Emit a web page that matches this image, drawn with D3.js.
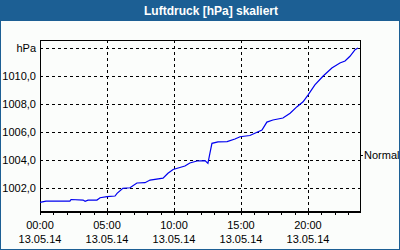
<!DOCTYPE html>
<html>
<head>
	<title>Luftdruck skaliert</title>
	<script src="https://d3js.org/d3.v7.min.js"></script>
	<style>
		body { margin: 0; background: #fff; }
		text { font-family: "Liberation Sans", Arial, sans-serif; font-size: 11px; fill: #000; }
		.grid line { stroke: #000; stroke-dasharray: 3,3; shape-rendering: crispEdges; }
		.grid .domain { display: none; }
		.axis .domain, .axis line { stroke: #000; shape-rendering: crispEdges; }
	</style>
</head>
<body>
	<div id="chart"></div>
	<script type="text/javascript">
		// sizes of the whole picture and the plot box
		var w = 400, h = 250;
		var padL = 40, padR = 360, padT = 40, padB = 211;

		// data (time of day, pressure in hPa)
		const times = ["00:00","00:27","02:14","02:19","03:13","03:22","03:35","04:15","04:29","05:00",
			"05:36","05:45","06:11","06:43","07:14","07:50","08:13","09:11","09:33","09:56",
			"10:49","11:11","11:43","12:19","12:32","12:41","12:50","13:17","13:58","14:33",
			"14:56","15:40","16:02","16:34","16:56","17:23","18:08","18:40","19:11","19:38",
			"20:00","20:31","21:07","21:47","22:23","22:46","23:08","23:31","23:44"];
		const pressure = [1000.98,1001.07,1001.07,1001.18,1001.14,1001.05,1001.14,1001.14,1001.31,1001.39,
			1001.43,1001.62,1001.98,1002.02,1002.36,1002.38,1002.57,1002.71,1003.05,1003.32,
			1003.57,1003.79,1003.93,1003.96,1003.76,1004.5,1005.19,1005.29,1005.31,1005.5,
			1005.66,1005.75,1005.91,1006.14,1006.71,1006.86,1007.0,1007.34,1007.81,1008.16,
			1008.64,1009.36,1009.98,1010.57,1010.93,1011.07,1011.41,1011.88,1012.0];
		const yTicks = [1002, 1004, 1006, 1008, 1010, 1012];
		const xTicks = ["00:00", "05:00", "10:00", "15:00", "20:00"];
		const day = "2014-05-13";
		const title = "Luftdruck [hPa] skaliert";

		var parse = d3.timeParse("%Y-%m-%d %H:%M");
		var data = times.map(function(t, i) { return { t: parse(day + " " + t), p: pressure[i] }; });

		var svg = d3.select("#chart").append("svg")
			.attr("width", w)
			.attr("height", h);

		// frame and title bar
		svg.append("rect").attr("x", 0).attr("y", 0).attr("width", w).attr("height", h).attr("fill", "#1c5f94");
		svg.append("rect").attr("x", 1).attr("y", 21).attr("width", w - 2).attr("height", h - 22).attr("fill", "#fbfdfb");
		svg.append("text")
			.attr("x", 211).attr("y", 14.5)
			.attr("text-anchor", "middle")
			.style("font-size", "12px").style("font-weight", "bold").style("fill", "#fff")
			.text(title);

		// scales
		var x = d3.scaleTime()
			.domain([parse(day + " 00:00"), parse(day + " 23:53")])
			.range([padL, padR]);
		var y = d3.scaleLinear()
			.domain([1000.36, 1012.57])
			.range([padB, padT]);

		var fmt = d3.formatLocale({ decimal: ",", thousands: ".", grouping: [3], currency: ["", "€"] }).format(".1f");

		// grid lines
		svg.append("g").attr("class", "grid")
			.attr("transform", "translate(" + padL + ",0)")
			.call(d3.axisLeft(y).tickValues(yTicks).tickSize(-(padR - padL)).tickFormat(""));
		svg.append("g").attr("class", "grid")
			.attr("transform", "translate(0," + padB + ")")
			.call(d3.axisBottom(x).tickValues(xTicks.slice(1).map(function(s) { return parse(day + " " + s); }))
				.tickSize(-(padB - padT)).tickFormat(""));

		// plot box
		svg.append("rect")
			.attr("x", padL + 0.5).attr("y", padT + 0.5)
			.attr("width", padR - padL).attr("height", padB - padT)
			.attr("fill", "none").attr("stroke", "#000").attr("shape-rendering", "crispEdges");

		// y axis labels
		var yAxis = svg.append("g").attr("class", "axis")
			.attr("transform", "translate(" + padL + ",0)")
			.call(d3.axisLeft(y).tickValues(yTicks).tickSize(0).tickPadding(4)
				.tickFormat(function(d) { return d === 1012 ? "hPa" : fmt(d); }));
		yAxis.select(".domain").remove();
		yAxis.selectAll("text").attr("font-size", null).attr("font-family", null);

		// x axis: hourly ticks, labels every 5 hours
		svg.append("g").attr("class", "axis")
			.attr("transform", "translate(0," + (padB + 0.5) + ")")
			.call(d3.axisBottom(x).ticks(d3.timeHour.every(1)).tickSize(3).tickSizeOuter(0).tickFormat(""));

		var labels = svg.append("g");
		xTicks.forEach(function(s) {
			var t = parse(day + " " + s);
			var lbl = labels.append("text").attr("text-anchor", "middle").attr("x", x(t));
			lbl.append("tspan").attr("x", x(t)).attr("y", 229).text(d3.timeFormat("%H:%M")(t));
			lbl.append("tspan").attr("x", x(t)).attr("y", 243).text(d3.timeFormat("%d.%m.%y")(t));
		});

		// "Normal" marker on the right
		svg.append("line").attr("x1", padR + 1).attr("x2", padR + 3).attr("y1", 155.5).attr("y2", 155.5)
			.attr("stroke", "#000").attr("shape-rendering", "crispEdges");
		svg.append("text").attr("x", padR + 4).attr("y", 159).text("Normal");

		// the pressure line
		var line = d3.line()
			.x(function(d) { return x(d.t); })
			.y(function(d) { return y(d.p); });
		svg.append("path")
			.datum(data)
			.attr("d", line)
			.attr("fill", "none")
			.attr("stroke", "#0000f0")
			.attr("stroke-width", 1.2);
	</script>
</body>
</html>
